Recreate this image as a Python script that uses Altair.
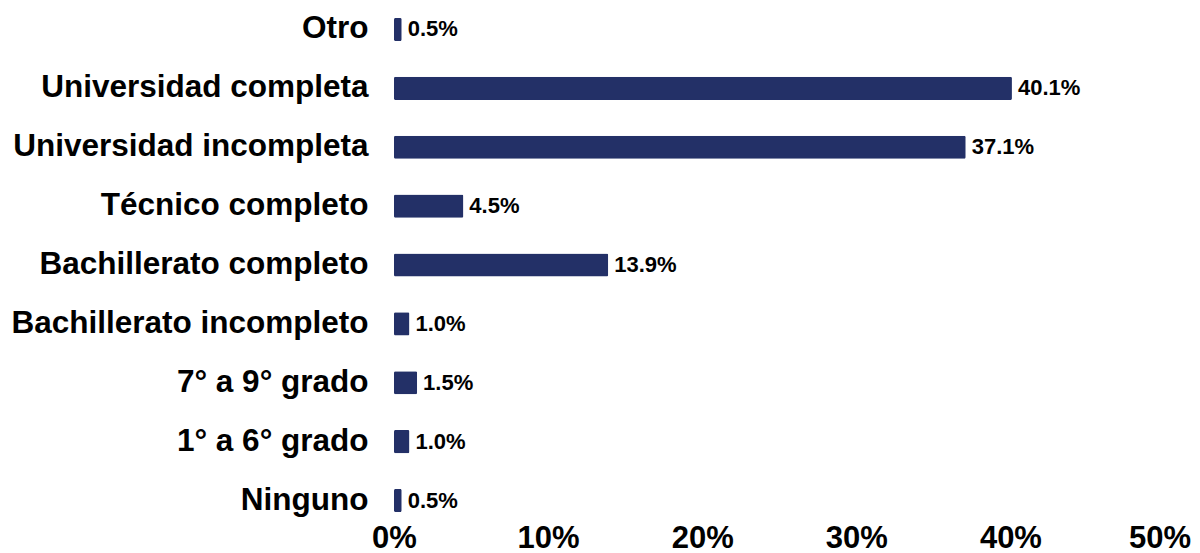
import altair as alt
import pandas as pd

categories = [
    "Otro",
    "Universidad completa",
    "Universidad incompleta",
    "Técnico completo",
    "Bachillerato completo",
    "Bachillerato incompleto",
    "7° a 9° grado",
    "1° a 6° grado",
    "Ninguno",
]
values = [0.5, 40.1, 37.1, 4.5, 13.9, 1.0, 1.5, 1.0, 0.5]
x_ticks = [0, 10, 20, 30, 40, 50]

df = pd.DataFrame({"categoria": categories, "valor": values})

FONT = "Liberation Sans"
BAR_COLOR = "#233067"

y_enc = alt.Y(
    "categoria:N",
    sort=categories,
    title=None,
    scale=alt.Scale(paddingInner=0.609, paddingOuter=0.144),
    axis=alt.Axis(
        labelFont=FONT,
        labelFontSize=31.5,
        labelFontWeight="bold",
        labelColor="#000000",
        labelPadding=26,
        ticks=False,
        domain=False,
        labelLimit=600,
    ),
)

x_enc = alt.X(
    "valor:Q",
    title=None,
    scale=alt.Scale(domain=[0, 50], nice=False),
    axis=alt.Axis(
        values=x_ticks,
        labelExpr="datum.value + '%'",
        labelFont=FONT,
        labelFontSize=31,
        labelFontWeight="bold",
        labelColor="#000000",
        labelPadding=3,
        labelFlush=False,
        labelOffset={"condition": {"test": "datum.value == 50", "value": -5}, "value": 0},
        ticks=False,
        domain=False,
        grid=False,
    ),
)

bars = alt.Chart(df).mark_bar(color=BAR_COLOR, cornerRadius=1.5).encode(x=x_enc, y=y_enc)

labels = (
    alt.Chart(df)
    .transform_calculate(etiqueta="format(datum.valor, '.1f') + '%'")
    .mark_text(
        align="left",
        baseline="middle",
        dx=6,
        font=FONT,
        fontSize=22,
        fontWeight="bold",
        color="#000000",
    )
    .encode(x="valor:Q", y=alt.Y("categoria:N", sort=categories), text="etiqueta:N")
)

chart = (
    alt.layer(bars, labels)
    .properties(
        width=770.5,
        height=511,
        autosize=alt.AutoSizeParams(type="none"),
        padding={"left": 386, "top": 1.5, "right": 27.5, "bottom": 40},
    )
    .configure_view(stroke=None)
)

chart.save("out.html", embed_options={"renderer": "svg", "actions": False})
